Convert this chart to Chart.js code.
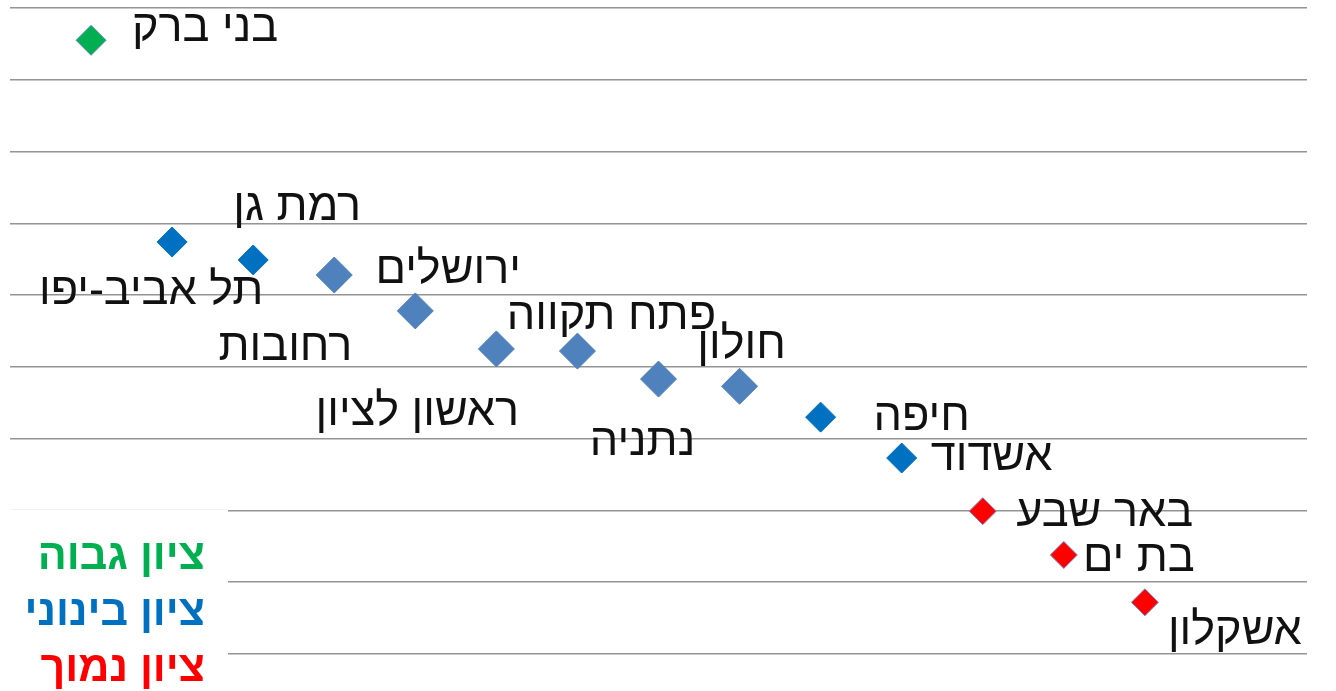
<!DOCTYPE html>
<html lang="he">
<head>
<meta charset="utf-8">
<script src="https://cdn.jsdelivr.net/npm/chart.js@4/dist/chart.umd.min.js"></script>
<style>
  html, body { margin: 0; padding: 0; background: #fff; }
  #wrap { width: 1336px; height: 691px; position: relative; }
</style>
</head>
<body>
<div id="wrap"><canvas id="c" width="1336" height="691"></canvas></div>
<script>
// ---- data ----
const cities = ['בני ברק','תל אביב-יפו','רמת גן','ירושלים','רחובות','ראשון לציון','פתח תקווה','נתניה','חולון','חיפה','אשדוד','באר שבע','בת ים','אשקלון'];
const rankX  = [1,2,3,4,5,6,7,8,9,10,11,12,13,14];
const scores = [8.55,5.74,5.49,5.28,4.78,4.25,4.22,3.83,3.73,3.30,2.73,1.99,1.38,0.72];
const groups = ['high','mid','mid','mid2','mid2','mid2','mid2','mid2','mid2','mid','mid','low','low','low'];
const legendLabels = ['ציון גבוה','ציון בינוני','ציון נמוך'];
const yTicks = [0,1,2,3,4,5,6,7,8,9];

// ---- styles ----
const groupStyle = {
  high: { fill: '#00B050', border: '#5B8BC5', r: 15 },
  mid:  { fill: '#0070C0', border: '#0070C0', r: 15 },
  mid2: { fill: '#4F81BD', border: '#4F81BD', r: 18 },
  low:  { fill: '#FF0000', border: '#7A86C8', r: 13.5 }
};
const legendColors = ['#00B050','#0070C0','#FF0000'];
// label centre offsets relative to the marker (pixels)
const labelOffsets = [
  [114,-12],[-21,50],[44,-52],[114,-4],[-130,37],[-79,64],[34,-35],[-16,64],[2,-41],[101,0],[90,0],[122,2],[75,4],[90,29]
];

const points = rankX.map((x,i)=>({x:x, y:scores[i]}));

const labelPlugin = {
  id: 'labels',
  afterDatasetsDraw(chart) {
    const ctx = chart.ctx;
    const meta = chart.getDatasetMeta(0);
    ctx.save();
    ctx.font = '45px "Liberation Sans", Arial, sans-serif';
    ctx.fillStyle = '#111';
    ctx.textAlign = 'center';
    ctx.textBaseline = 'middle';
    ctx.direction = 'rtl';
    meta.data.forEach((el,i)=>{
      const o = labelOffsets[i];
      ctx.fillText(cities[i], el.x + o[0], el.y + o[1]);
    });
    ctx.restore();
  },
  afterDraw(chart) {
    const ctx = chart.ctx;
    ctx.save();
    ctx.fillStyle = '#fff';
    ctx.fillRect(10, 509, 218, 182);
    ctx.strokeStyle = '#f2f2f2';
    ctx.lineWidth = 1;
    ctx.beginPath(); ctx.moveTo(10, 509.5); ctx.lineTo(228, 509.5); ctx.stroke();
    ctx.font = 'bold 43px "Liberation Sans", Arial, sans-serif';
    ctx.textAlign = 'right';
    ctx.textBaseline = 'middle';
    ctx.direction = 'ltr';
    const ys = [557, 613, 669];
    legendLabels.forEach((t,i)=>{
      ctx.fillStyle = legendColors[i];
      ctx.fillText(t, 205, ys[i]);
    });
    ctx.restore();
  }
};

new Chart(document.getElementById('c'), {
  type: 'scatter',
  data: {
    datasets: [{
      data: points,
      pointStyle: 'rectRot',
      pointRadius: groups.map(g=>groupStyle[g].r),
      pointHoverRadius: groups.map(g=>groupStyle[g].r),
      pointBackgroundColor: groups.map(g=>groupStyle[g].fill),
      pointBorderColor: groups.map(g=>groupStyle[g].border),
      pointBorderWidth: 1
    }]
  },
  options: {
    responsive: false,
    animation: false,
    events: [],
    layout: { autoPadding: false, padding: { left: 10, right: 29, top: 8, bottom: 37 } },
    plugins: { legend: { display: false }, tooltip: { enabled: false } },
    scales: {
      x: {
        type: 'linear', min: 0, max: 16,
        grid: { display: false },
        border: { display: false },
        ticks: { display: false },
        afterFit(s){ s.height = 0; }
      },
      y: {
        type: 'linear', min: 0, max: 9,
        afterBuildTicks(s){ s.ticks = yTicks.map(v=>({value:v})); },
        grid: { color: '#949494', lineWidth: 1.6, drawTicks: false },
        border: { display: false },
        ticks: { display: false },
        afterFit(s){ s.width = 0; }
      }
    }
  },
  plugins: [labelPlugin]
});
</script>
</body>
</html>
